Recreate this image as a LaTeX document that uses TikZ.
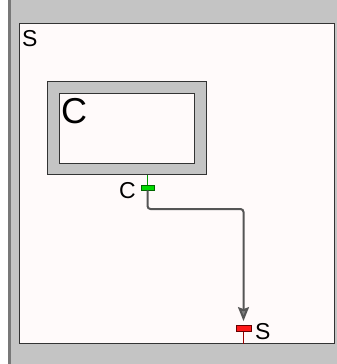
\documentclass[tikz,border=0pt]{standalone}
\usepackage{fontspec}
\setmainfont{Liberation Sans}
\usetikzlibrary{positioning,arrows.meta}
\definecolor{panelgray}{RGB}{196,196,196}
\definecolor{edgegray}{RGB}{120,120,120}
\definecolor{snowfill}{RGB}{255,250,250}
\definecolor{wiregray}{RGB}{85,85,85}
\tikzset{>=Stealth}

\begin{document}
\begin{tikzpicture}[x=1bp,y=-1bp,
    box/.style={rectangle,draw=black!80,line width=1bp,inner sep=0pt},
    port/.style={rectangle,draw,line width=0.8bp,inner sep=0pt},
    lbl/.style={inner sep=0pt,font=\fontsize{23bp}{25bp}\selectfont}]
    \useasboundingbox (0,0) rectangle (337,364);

    % Draw the background panel
    \fill[panelgray] (8.5,0) rectangle (337,364);
    \draw[edgegray,line width=2bp] (9.5,0) -- (9.5,364);

    % Draw the system and the component
    \node[box,fill=snowfill,minimum width=314bp,minimum height=320bp] (sys) at (177,183) {};
    \node[box,fill=panelgray,minimum width=158bp,minimum height=93bp] (comp) at (127,127.5) {};
    \node[box,fill=snowfill,minimum width=134bp,minimum height=70bp] (compin) at (127,128) {};

    % Labels
    \node[lbl,anchor=base west] (syslbl) at (22,46) {S};
    \node[lbl,anchor=base west,font=\fontsize{36bp}{38bp}\selectfont] (complbl) at (61,123) {C};

    % Ports
    \node[port,fill=green!85!black,draw=green!40!black,minimum width=13bp,minimum height=5bp] (cport) at (147.5,187.5) {};
    \node[port,fill=red!90!white,draw=red!40!black,minimum width=15bp,minimum height=6bp] (sport) at (243.5,328.5) {};
    \node[lbl,anchor=base east] (cportlbl) at (136,198) {C};
    \node[lbl,anchor=base west] (sportlbl) at (255,339) {S};

    % Port stems
    \draw[green!60!black,line width=1.5bp] (cport.north) -- (cport.north |- comp.south);
    \draw[red!60!black,line width=1.5bp] (sport.south) -- (sport.south |- sys.south);

    % Draw the connector
    \coordinate (bend) at (147.5,209);
    \draw[-{Stealth[length=14bp,width=11bp,inset=2bp,fill=gray]},wiregray,line width=2bp,
        rounded corners=3bp,shorten >=4bp]
        (cport.south) -- (bend) -- (bend -| sport.north) -- (sport.north);
\end{tikzpicture}
\end{document}
